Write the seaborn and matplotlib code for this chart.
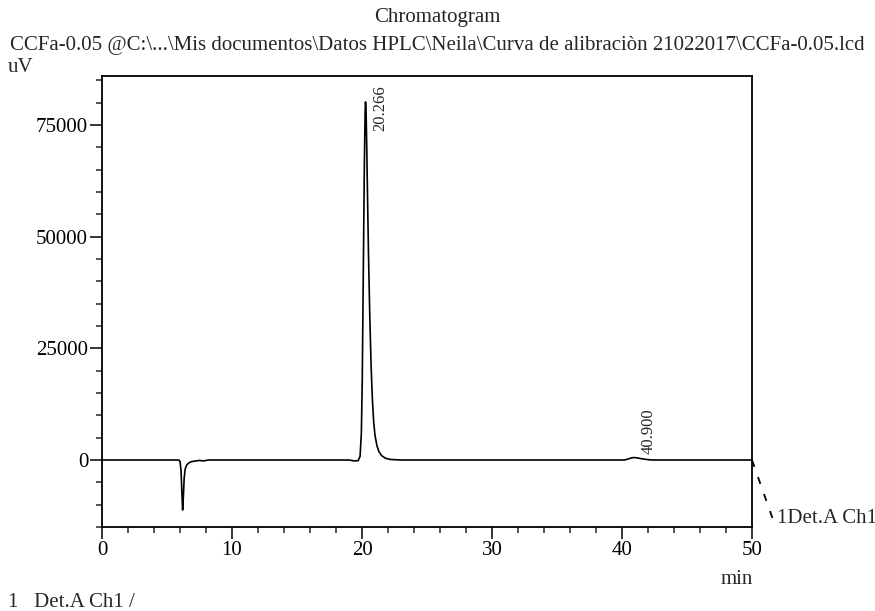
import matplotlib
matplotlib.use("Agg")
import matplotlib.pyplot as plt
from matplotlib.ticker import MultipleLocator
import pandas as pd
import seaborn as sns

# trace (time in min, signal in uV)
time_min = [0.0, 5.9, 6.0, 6.08, 6.14, 6.2, 6.26, 6.32, 6.4, 6.5, 6.65, 6.85,
            7.1, 7.5, 7.8, 8.2, 19.0, 19.4, 19.7, 19.85, 19.95, 20.02, 20.1,
            20.18, 20.24, 20.27, 20.31, 20.36, 20.43, 20.5, 20.6, 20.7, 20.8,
            20.9, 21.0, 21.15, 21.3, 21.5, 21.8, 22.2, 23.0, 40.2, 40.5, 40.7,
            40.9, 41.1, 41.4, 41.8, 42.3, 50.0]
signal_uv = [0, 0, -300, -2500, -7000, -11200, -8000, -4000, -2000, -1200,
             -700, -400, -250, -100, -200, 0, 0, -200, -150, 800, 6000,
             18000, 42000, 66000, 78000, 80200, 78500, 71000, 58000, 46000,
             32000, 21000, 13500, 8500, 5500, 3200, 1900, 1000, 400, 120, 0,
             0, 250, 450, 550, 500, 350, 150, 0, 0]

peak_times = [20.266, 40.900]
peak_labels = ["20.266", "40.900"]
label_tops = [84000, 11500]

fig_title = "Chromatogram"
file_line = ("CCFa-0.05 @C:\\...\\Mis documentos\\Datos HPLC\\Neila\\"
             "Curva de alibraciòn 21022017\\CCFa-0.05.lcd")
channel = "Det.A Ch1"

df = pd.DataFrame({"t": time_min, "uv": signal_uv})

sns.set_style("ticks")
plt.rcParams["font.family"] = ["Liberation Serif", "DejaVu Serif"]

fig = plt.figure(figsize=(8.75, 6.11), dpi=100)
ax = fig.add_axes([0.1166, 0.1375, 0.7428, 0.7381])

sns.lineplot(data=df, x="t", y="uv", ax=ax, color="black", linewidth=1.2)

ax.set_xlim(0, 50)
ax.set_ylim(-15000, 86000)
ax.xaxis.set_major_locator(MultipleLocator(10))
ax.xaxis.set_minor_locator(MultipleLocator(2))
ax.yaxis.set_major_locator(MultipleLocator(25000))
ax.yaxis.set_minor_locator(MultipleLocator(5000))
ax.tick_params(which="major", direction="out", length=8.5, width=1.1,
               labelsize=15, colors="black", pad=1.5)
ax.tick_params(which="minor", direction="out", length=4.5, width=1.1)
ax.set_xlabel("")
ax.set_ylabel("")
for s in ax.spines.values():
    s.set_visible(True)
    s.set_linewidth(1.3)
    s.set_color("black")

# retention time labels
for t, lab, top in zip(peak_times, peak_labels, label_tops):
    ax.text(t + 0.5, top, lab, rotation=90, fontsize=12,
            ha="left", va="top")

# trace running past the end of the window
ax.plot([50, 51.6], [0, -13200], color="black", linewidth=1.3,
        linestyle=(0, (4, 6)), clip_on=False)
ax.text(51.9, -13000, "1" + channel, fontsize=15, ha="left", va="center")

fig.text(0.5, 0.971, fig_title, ha="center", va="center", fontsize=15)
fig.text(0.5, 0.926, file_line, ha="center", va="center", fontsize=15)
fig.text(0.009, 0.889, "uV", ha="left", va="center", fontsize=15)
fig.text(0.842, 0.051, "min", ha="center", va="center", fontsize=15)
fig.text(0.009, 0.014, "1   " + channel + " /", ha="left", va="center",
         fontsize=15)

fig.savefig("out.png", dpi=100)
